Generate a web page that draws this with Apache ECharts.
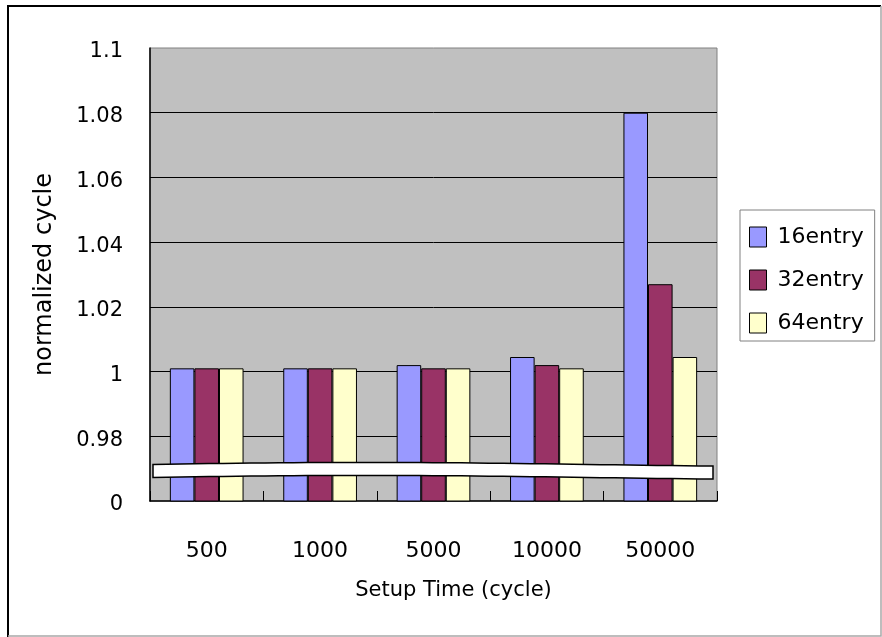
<!DOCTYPE html>
<html><head><meta charset="utf-8">
<script src="https://cdn.jsdelivr.net/npm/echarts@6/dist/echarts.min.js"></script>
<style>html,body{margin:0;padding:0;background:#fff}#c{width:882px;height:637px}</style>
</head><body><div id="c"></div>
<script>
var categories = ['500', '1000', '5000', '10000', '50000'];
var seriesNames = ['16entry', '32entry', '64entry'];
var entry16 = [1.001, 1.001, 1.002, 1.0045, 1.08];
var entry32 = [1.001, 1.001, 1.001, 1.002, 1.027];
var entry64 = [1.001, 1.001, 1.001, 1.001, 1.0045];
var yTicks = [0.96, 0.98, 1.0, 1.02, 1.04, 1.06, 1.08, 1.1];
var brokenTickLabel = '0';
var breakValue = 0.9693;

var colors = ['#9999ff', '#993366', '#ffffcc'];
var font = 'DejaVu Sans';

var chart = echarts.init(document.getElementById('c'), null, {renderer: 'canvas'});

function barSeries(name, data, color) {
  return {
    name: name, type: 'bar', data: data,
    barGap: '0%', barCategoryGap: '35%',
    itemStyle: {color: color, borderColor: '#000', borderWidth: 1},
    z: 2
  };
}

chart.setOption({
  animation: false,
  backgroundColor: '#fff',
  textStyle: {fontFamily: font, color: '#000'},
  grid: {left: 150, top: 48, right: 165, bottom: 136, show: true,
         backgroundColor: '#c0c0c0', borderColor: '#808080', borderWidth: 1},
  legend: {
    data: seriesNames, orient: 'vertical', left: 740, top: 210,
    padding: [14, 11, 5, 9], itemWidth: 17, itemHeight: 20, itemGap: 17,
    borderColor: '#808080', borderWidth: 1, backgroundColor: '#fff',
    icon: 'rect',
    itemStyle: {borderColor: '#000', borderWidth: 1},
    textStyle: {fontFamily: font, fontSize: 22, color: '#000', lineHeight: 26, padding: [0, 0, 0, 6]}
  },
  xAxis: {
    type: 'category', data: categories,
    name: 'Setup Time (cycle)', nameLocation: 'middle', nameGap: 79,
    nameTextStyle: {fontFamily: font, fontSize: 21, color: '#000', padding: [0, 0, 0, 40]},
    axisLine: {lineStyle: {color: '#000', width: 1.5}},
    axisTick: {show: true, inside: true, length: 10, lineStyle: {color: '#000'}},
    axisLabel: {fontFamily: font, fontSize: 22, color: '#000', margin: 39},
    splitLine: {show: false}
  },
  yAxis: {
    type: 'value', min: yTicks[0], max: yTicks[yTicks.length - 1], interval: 0.02,
    name: 'normalized cycle', nameLocation: 'middle', nameGap: 93,
    nameTextStyle: {fontFamily: font, fontSize: 24, color: '#000'},
    axisLine: {show: true, lineStyle: {color: '#000', width: 1.5}},
    axisTick: {show: false},
    axisLabel: {fontFamily: font, fontSize: 21, color: '#000', margin: 27,
      verticalAlign: 'top', lineHeight: 8,
      formatter: function (v) {
        var r = Math.round(v * 100) / 100;
        if (Math.abs(r - yTicks[0]) < 1e-6) return brokenTickLabel;
        return String(r);
      }},
    splitLine: {show: true, showMaxLine: false, showMinLine: false, lineStyle: {color: '#000', width: 1}}
  },
  graphic: [
    {type: 'polyline', shape: {points: [[8, 637], [8, 6], [881, 6]]}, style: {stroke: '#000', lineWidth: 2, fill: null}, z: 100},
    {type: 'polyline', shape: {points: [[881, 6], [881, 636], [8, 636]]}, style: {stroke: '#a8a8a8', lineWidth: 1.5, fill: null}, z: 100}
  ],
  series: [
    barSeries(seriesNames[0], entry16, colors[0]),
    barSeries(seriesNames[1], entry32, colors[1]),
    barSeries(seriesNames[2], entry64, colors[2]),
    {
      type: 'custom', name: 'break', data: [[0, breakValue]], z: 10, silent: true,
      renderItem: function (params, api) {
        var cs = params.coordSys;
        var cy = api.coord([0, api.value(1)])[1];
        var x0 = cs.x + 3, x1 = cs.x + cs.width - 4;
        var n = 40, top = [], bot = [];
        for (var i = 0; i <= n; i++) {
          var t = i / n;
          var w = -2 * Math.sin(Math.PI * 1.3 * t);
          var x = x0 + (x1 - x0) * t;
          top.push([x, cy - 6.5 + w]);
          bot.push([x, cy + 6.5 + w]);
        }
        var pts = top.concat(bot.reverse());
        return {type: 'polygon', shape: {points: pts},
                style: {fill: '#fff', stroke: '#000', lineWidth: 1.5}};
      }
    }
  ]
});
</script></body></html>
